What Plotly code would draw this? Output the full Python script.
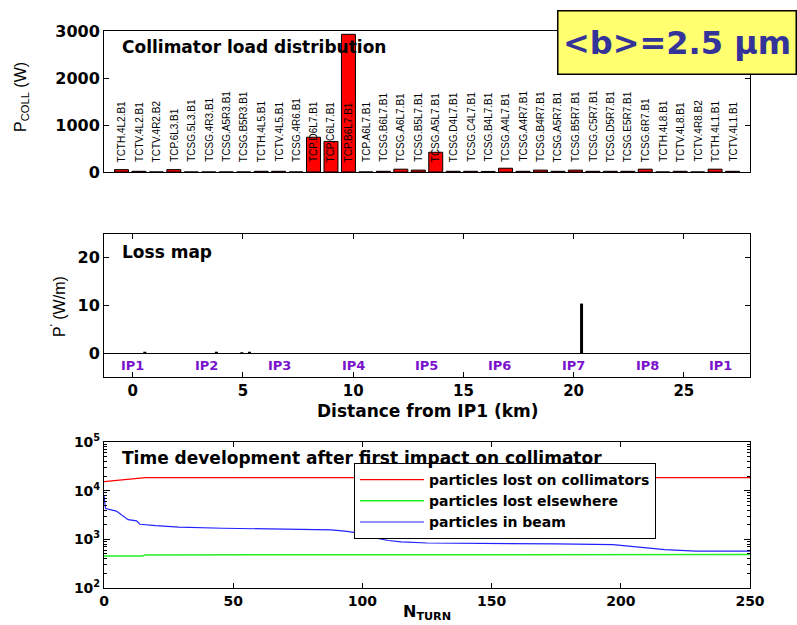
import plotly.graph_objects as go

# ---------------- data ----------------
collimators = ["TCTH.4L2.B1", "TCTV.4L2.B1", "TCTV.4R2.B2", "TCP.6L3.B1", "TCSG.5L3.B1",
               "TCSG.4R3.B1", "TCSG.A5R3.B1", "TCSG.B5R3.B1", "TCTH.4L5.B1", "TCTV.4L5.B1",
               "TCSG.4R6.B1", "TCP.D6L7.B1", "TCP.C6L7.B1", "TCP.B6L7.B1", "TCP.A6L7.B1",
               "TCSG.B6L7.B1", "TCSG.A6L7.B1", "TCSG.B5L7.B1", "TCSG.A5L7.B1", "TCSG.D4L7.B1",
               "TCSG.C4L7.B1", "TCSG.B4L7.B1", "TCSG.A4L7.B1", "TCSG.A4R7.B1", "TCSG.B4R7.B1",
               "TCSG.A5R7.B1", "TCSG.B5R7.B1", "TCSG.C5R7.B1", "TCSG.D5R7.B1", "TCSG.E5R7.B1",
               "TCSG.6R7.B1", "TCTH.4L8.B1", "TCTV.4L8.B1", "TCTV.4R8.B2", "TCTH.4L1.B1",
               "TCTV.4L1.B1"]
coll_power = [50, 15, 0, 50, 0,
              0, 0, 0, 15, 15,
              0, 740, 650, 2930, 0,
              15, 60, 40, 420, 15,
              15, 12, 80, 15, 40,
              15, 40, 15, 15, 15,
              60, 0, 15, 0, 60,
              15]

loss_pos_km = [0.55, 3.8, 4.95, 5.3, 20.36]
loss_val_wm = [0.3, 0.3, 0.2, 0.3, 10.4]
ip_names = ["IP1", "IP2", "IP3", "IP4", "IP5", "IP6", "IP7", "IP8", "IP1"]
ip_pos_km = [0.0, 3.33, 6.66, 10.0, 13.33, 16.66, 20.0, 23.33, 26.66]

turns_red = [0, 7, 13, 16, 250]
lost_coll = [15400, 16700, 17700, 18600, 18600]
turns_green = [0, 15, 16, 250]
lost_else = [455, 455, 478, 488]
turns_blue = [0, 0.6, 4.8, 8, 9.3, 12.6, 13.9, 20, 29, 46, 67, 88, 94, 100, 106, 110, 115,
              125, 175, 197, 205, 217, 229, 250]
in_beam = [7800, 4300, 3800, 2870, 2540, 2400, 2040, 1910, 1790, 1690, 1630, 1560, 1460,
           1310, 1050, 945, 890, 840, 805, 780, 705, 615, 570, 570]

# ---------------- styling helpers ----------------
BOLD = "DejaVu Sans"
REG = "Liberation Sans"
tick_big = dict(family=BOLD, size=16, color="black", weight="bold")
tick_mid = dict(family=BOLD, size=15, color="black", weight="bold")
tick_small = dict(family=BOLD, size=14, color="black", weight="bold")

fig = go.Figure()

# top panel bars
fig.add_trace(go.Bar(x=collimators, y=coll_power, width=0.8,
                     marker=dict(color="#ff0000", line=dict(color="black", width=1)),
                     xaxis="x", yaxis="y", showlegend=False))

# middle panel stems
sx, sy = [], []
for p, v in zip(loss_pos_km, loss_val_wm):
    sx += [p, p, None]
    sy += [0, v, None]
fig.add_trace(go.Scatter(x=sx, y=sy, mode="lines", line=dict(color="black", width=3),
                         xaxis="x2", yaxis="y2", showlegend=False))

# bottom panel
fig.add_trace(go.Scatter(x=turns_red, y=lost_coll, mode="lines", name="particles lost on collimators",
                         line=dict(color="#ff0000", width=1.2), xaxis="x3", yaxis="y3"))
fig.add_trace(go.Scatter(x=turns_green, y=lost_else, mode="lines", name="particles lost elsewhere",
                         line=dict(color="#22ee22", width=1.5), xaxis="x3", yaxis="y3"))
fig.add_trace(go.Scatter(x=turns_blue, y=in_beam, mode="lines", name="particles in beam",
                         line=dict(color="#2222ff", width=1.2), xaxis="x3", yaxis="y3"))

H = 557.0
def py(p):
    return (588 - p) / H
def px(p):
    return (p - 104) / 646.0

annotations = []
for name in collimators:
    annotations.append(dict(x=name, y=0, xref="x", yref="y", text=name, textangle=-90,
                            showarrow=False, yanchor="bottom", xanchor="center", yshift=8,
                            font=dict(family=REG, size=10, color="black")))
for n, p in zip(ip_names, ip_pos_km):
    annotations.append(dict(x=p, y=-2.5, xref="x2", yref="y2", text=n, showarrow=False,
                            xanchor="center", yanchor="middle",
                            font=dict(family=BOLD, size=13, color="#7a14cc", weight="bold")))

def pann(x, y, text, font, xanchor="center", **kw):
    d = dict(x=px(x), y=py(y), xref="paper", yref="paper", xanchor=xanchor, yanchor="middle",
             text=text, showarrow=False, font=font)
    d.update(kw)
    return d

title_font = dict(family=BOLD, size=17, color="black", weight="bold")
annotations += [
    pann(120, 47.5, "Collimator load distribution", title_font, xanchor="left"),
    pann(120, 252, "Loss map", title_font, xanchor="left"),
    pann(120, 457.5, "Time development after first impact on collimator", title_font, xanchor="left"),
    pann(22, 97, "P<sub>COLL</sub> (W)", dict(family=REG, size=16, color="black"), textangle=-90),
    pann(58, 307, "P<sup>'</sup> (W/m)", dict(family=REG, size=16, color="black"), textangle=-90),
    pann(427, 411, "Distance from IP1 (km)", title_font),
    pann(427, 612, "N<sub>TURN</sub>", dict(family=BOLD, size=16, color="black", weight="bold")),
    pann(677, 42.5, "&lt;b&gt;=2.5 μm",
         dict(family=BOLD, size=32, color="#333399", weight="bold"),
         width=237, height=62, bgcolor="#ffff70", bordercolor="black",
         borderwidth=1.5, borderpad=0),
]

axis_common = dict(showline=True, linecolor="black", linewidth=1, showgrid=False,
                   ticks="inside", tickcolor="black", mirror="ticks")

minor_vals = [m * 10 ** e for e in (2, 3, 4) for m in range(2, 10)]

fig.update_layout(
    width=797, height=625,
    margin=dict(l=104, r=47, t=31, b=37),
    paper_bgcolor="white", plot_bgcolor="white",
    xaxis=dict(domain=[0, 1], anchor="y", type="category", range=[-1, 36],
               showticklabels=False, ticks="", showline=True, linecolor="black",
               mirror=True, showgrid=False),
    yaxis=dict(domain=[py(172), 1], anchor="x", range=[0, 3000], zeroline=False,
               tickvals=[0, 1000, 2000, 3000], ticklen=5, tickfont=tick_big, **axis_common),
    xaxis2=dict(domain=[0, 1], anchor="y2", range=[-1.3, 28], tickvals=[0, 5, 10, 15, 20, 25],
                zeroline=False, ticklen=5, tickfont=tick_mid, **axis_common),
    yaxis2=dict(domain=[py(377), py(234)], anchor="x2", range=[-5, 25],
                tickvals=[0, 10, 20], ticklen=5, tickfont=tick_big,
                zeroline=True, zerolinecolor="black", zerolinewidth=1, **axis_common),
    xaxis3=dict(domain=[0, 1], anchor="y3", range=[0, 250], tickvals=[0, 50, 100, 150, 200, 250],
                zeroline=False, ticklen=5, tickfont=tick_small, **axis_common),
    yaxis3=dict(domain=[0, py(442)], anchor="x3", type="log", range=[2, 5],
                tickvals=[100, 1000, 10000, 100000],
                ticktext=["10<sup>2</sup>", "10<sup>3</sup>", "10<sup>4</sup>", "10<sup>5</sup>"],
                ticklen=6, tickfont=tick_small, zeroline=False,
                minor=dict(tickvals=minor_vals, ticks="inside", ticklen=3, tickcolor="black",
                           showgrid=False),
                **axis_common),
    legend=dict(x=px(354), y=py(463), xanchor="left", yanchor="top",
                bgcolor="white", bordercolor="black", borderwidth=1,
                font=dict(family=BOLD, size=14, color="black", weight="bold"),
                tracegroupgap=0, itemwidth=64),
    annotations=annotations,
)

fig.write_html("out.html")
